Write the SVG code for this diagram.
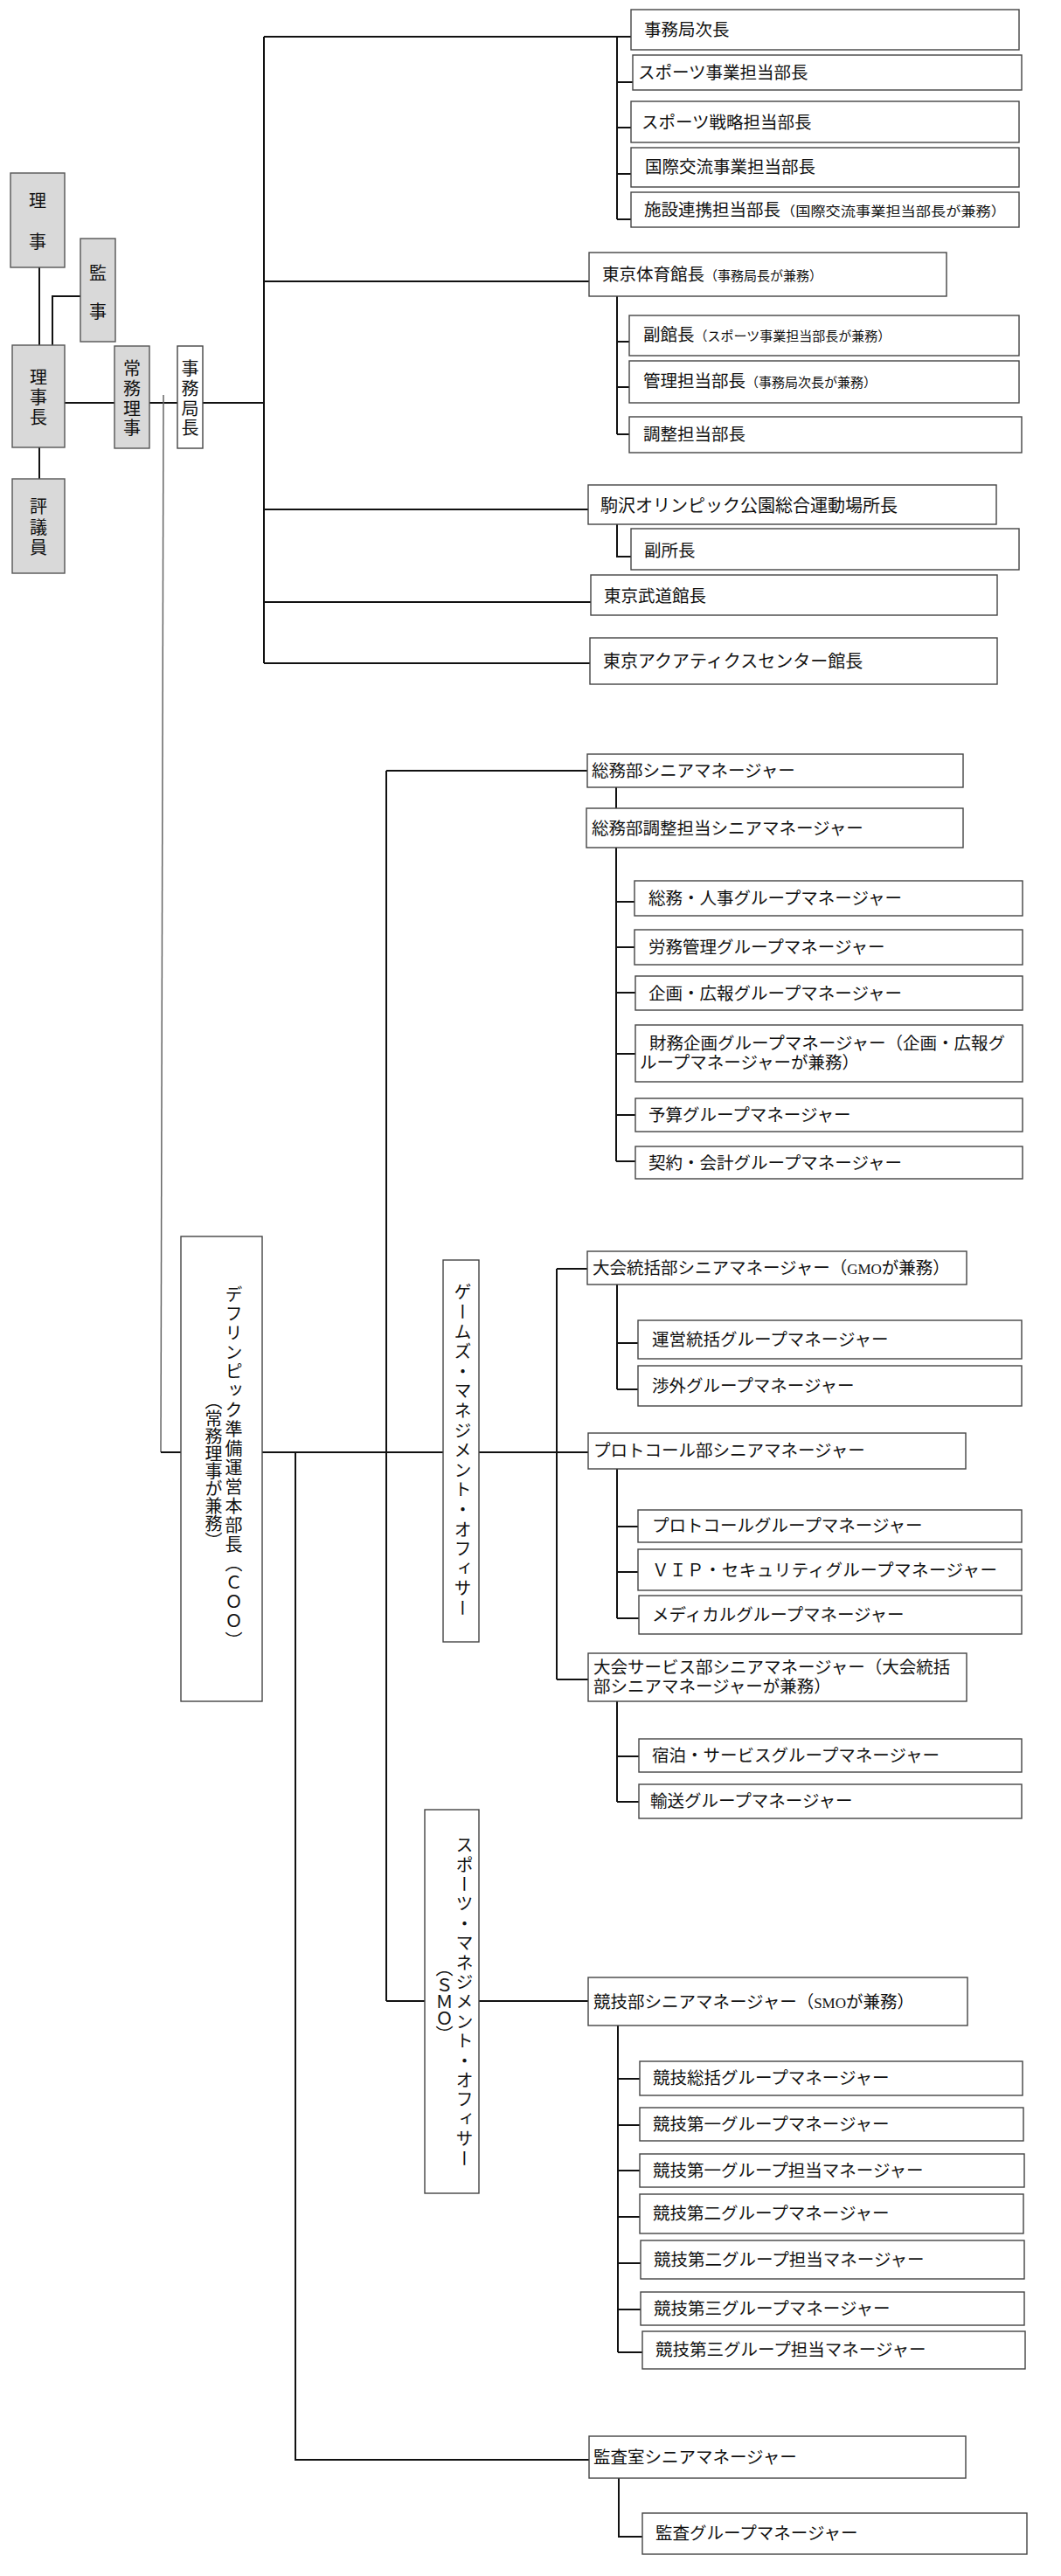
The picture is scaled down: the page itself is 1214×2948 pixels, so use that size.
<svg xmlns="http://www.w3.org/2000/svg" width="1214" height="2948" viewBox="0 0 1214 2948">
<style>
  .box{fill:#ffffff;stroke:#444444;stroke-width:1.4}
  .gbox{fill:#d9d9d9;stroke:#555555;stroke-width:1.4}
  text{font-family:"Liberation Serif","Noto Sans CJK JP",serif;fill:#111111}
  .t{font-size:19.5px}
  .b{font-size:20px}
  .s{font-size:15px}
  .l{font-size:17px}
  .c{font-size:20px;text-anchor:middle}
  .v{font-size:20px;writing-mode:vertical-rl;text-anchor:middle;letter-spacing:2px}
  .ln{stroke:#111111;stroke-width:2;fill:none}
  .thin{stroke:#666666;stroke-width:1.5;fill:none}
</style>
<rect x="0" y="0" width="1214" height="2948" fill="#ffffff"/>

<g id="connectors">
  <path class="ln" d="M45,306 V395 M45,512 V548 M60,395 V339 H92"/>
  <path class="ln" d="M74,461 H131 M171,461 H203 M232,461 H302"/>
  <path class="ln" d="M302,42 V759 M302,42 H722"/>
  <path class="ln" d="M706,42 V251 M706,94 H724 M706,146 H722 M706,199 H722 M706,251 H722"/>
  <path class="ln" d="M302,322 H674 M706,339 V497 M706,391 H720 M706,443 H720 M706,497 H720"/>
  <path class="ln" d="M302,583 H673 M706,600 V637 H722"/>
  <path class="ln" d="M302,689 H676 M302,759 H675"/>
  <path class="thin" d="M187,452 L184,1662"/>
  <path class="ln" d="M184,1662 H207 M300,1662 H507 M548,1662 H673"/>
  <path class="ln" d="M338,1662 V2815 H674"/>
  <path class="ln" d="M442,882 V2290 M442,882 H672 M442,2290 H486 M548,2290 H673"/>
  <path class="ln" d="M705,901 V925 M705,970 V1329 M705,1032 H726 M705,1084 H726 M705,1136 H727 M705,1206 H727 M705,1276 H727 M705,1329 H727"/>
  <path class="ln" d="M637,1452 V1922 M637,1452 H672 M637,1922 H673"/>
  <path class="ln" d="M706,1470 V1590 M706,1537 H730 M706,1590 H730"/>
  <path class="ln" d="M706,1681 V1852 M706,1747 H730 M706,1799 H730 M706,1852 H731"/>
  <path class="ln" d="M706,1947 V2062 M706,2010 H731 M706,2062 H731"/>
  <path class="ln" d="M707,2318 V2692 M707,2379 H732 M707,2432 H732 M707,2484 H732 M707,2537 H732 M707,2590 H733 M707,2643 H733 M707,2692 H735"/>
  <path class="ln" d="M708,2836 V2903 H735"/>
</g>

<g id="riji"><rect class="gbox" x="12" y="198" width="62" height="108"/>
  <text class="c"><tspan x="43" y="237">理</tspan><tspan x="43" y="284">事</tspan></text></g>
<g id="kanji"><rect class="gbox" x="92" y="273" width="40" height="118"/>
  <text class="c"><tspan x="112" y="320">監</tspan><tspan x="112" y="364">事</tspan></text></g>
<g id="rijicho"><rect class="gbox" x="14" y="395" width="60" height="117"/>
  <text class="c"><tspan x="44" y="439">理</tspan><tspan x="44" y="462">事</tspan><tspan x="44" y="485">長</tspan></text></g>
<g id="hyogiin"><rect class="gbox" x="14" y="548" width="60" height="108"/>
  <text class="c"><tspan x="44" y="587">評</tspan><tspan x="44" y="611">議</tspan><tspan x="44" y="634">員</tspan></text></g>
<g id="jomuriji"><rect class="gbox" x="131" y="396" width="40" height="117"/>
  <text class="c"><tspan x="151" y="429">常</tspan><tspan x="151" y="452">務</tspan><tspan x="151" y="475">理</tspan><tspan x="151" y="497">事</tspan></text></g>
<g id="jimukyokucho"><rect class="box" x="203" y="396" width="29" height="117"/>
  <text class="c"><tspan x="217.5" y="429">事</tspan><tspan x="217.5" y="452">務</tspan><tspan x="217.5" y="475">局</tspan><tspan x="217.5" y="497">長</tspan></text></g>

<g id="jichou"><rect class="box" x="722" y="11" width="444" height="46"/><text class="t" x="737" y="41">事務局次長</text></g>
<g id="sports-jigyo"><rect class="box" x="724" y="63" width="445" height="40"/><text class="t" x="730" y="90">スポーツ事業担当部長</text></g>
<g id="sports-senryaku"><rect class="box" x="722" y="116" width="444" height="47"/><text class="t" x="734" y="147">スポーツ戦略担当部長</text></g>
<g id="kokusai"><rect class="box" x="722" y="169" width="444" height="45"/><text class="t" x="738" y="198">国際交流事業担当部長</text></g>
<g id="shisetsu"><rect class="box" x="722" y="220" width="444" height="40"/><text class="t" x="737" y="247">施設連携担当部長<tspan class="s" textLength="258" lengthAdjust="spacingAndGlyphs">（国際交流事業担当部長が兼務）</tspan></text></g>

<g id="taiikukan"><rect class="box" x="674" y="289" width="409" height="50"/><text class="t" x="689" y="321">東京体育館長<tspan class="s">（事務局長が兼務）</tspan></text></g>
<g id="fukukancho"><rect class="box" x="720" y="361" width="446" height="46"/><text class="t" x="736" y="390">副館長<tspan class="s">（スポーツ事業担当部長が兼務）</tspan></text></g>
<g id="kanri"><rect class="box" x="720" y="413" width="446" height="48"/><text class="t" x="736" y="443">管理担当部長<tspan class="s">（事務局次長が兼務）</tspan></text></g>
<g id="chosei"><rect class="box" x="720" y="477" width="449" height="41"/><text class="t" x="736" y="504">調整担当部長</text></g>

<g id="komazawa"><rect class="box" x="673" y="555" width="467" height="45"/><text class="t b" x="687" y="586">駒沢オリンピック公園総合運動場所長</text></g>
<g id="fukushocho"><rect class="box" x="722" y="605" width="444" height="47"/><text class="t" x="737" y="637">副所長</text></g>
<g id="budokan"><rect class="box" x="676" y="658" width="465" height="46"/><text class="t" x="691" y="689">東京武道館長</text></g>
<g id="aquatics"><rect class="box" x="675" y="730" width="466" height="53"/><text class="t b" x="690" y="764">東京アクアティクスセンター館長</text></g>

<g id="coo"><rect class="box" x="207" y="1415" width="93" height="532"/>
  <text class="v" x="266" y="1680">デフリンピック準備運営本部長（ＣＯＯ）</text>
  <text class="v" x="243" y="1683" style="letter-spacing:0px">（常務理事が兼務）</text></g>

<g id="somu-sm"><rect class="box" x="672" y="863" width="430" height="38"/><text class="t" x="677" y="889">総務部シニアマネージャー</text></g>
<g id="somu-chosei"><rect class="box" x="671" y="925" width="431" height="45"/><text class="t" x="677" y="955">総務部調整担当シニアマネージャー</text></g>
<g id="somu-jinji"><rect class="box" x="726" y="1008" width="444" height="40"/><text class="t" x="742" y="1035">総務・人事グループマネージャー</text></g>
<g id="romu"><rect class="box" x="726" y="1064" width="444" height="40"/><text class="t" x="742" y="1091">労務管理グループマネージャー</text></g>
<g id="kikaku"><rect class="box" x="727" y="1117" width="443" height="39"/><text class="t" x="742" y="1144">企画・広報グループマネージャー</text></g>
<g id="zaimu"><rect class="box" x="727" y="1173" width="443" height="65"/><text class="t"><tspan x="743" y="1201">財務企画グループマネージャー（企画・広報グ</tspan><tspan x="732" y="1223">ループマネージャーが兼務）</tspan></text></g>
<g id="yosan"><rect class="box" x="727" y="1257" width="443" height="38"/><text class="t" x="742" y="1283">予算グループマネージャー</text></g>
<g id="keiyaku"><rect class="box" x="727" y="1312" width="443" height="37"/><text class="t" x="742" y="1338">契約・会計グループマネージャー</text></g>

<g id="gmo"><rect class="box" x="507" y="1442" width="41" height="437"/>
  <text class="v" x="528" y="1661" style="letter-spacing:2.6px">ゲームズ・マネジメント・オフィサー</text></g>

<g id="taikai-tokatsu"><rect class="box" x="672" y="1432" width="434" height="38"/><text class="t" x="678" y="1458">大会統括部シニアマネージャー（<tspan class="l">GMO</tspan>が兼務）</text></g>
<g id="unei"><rect class="box" x="730" y="1511" width="439" height="44"/><text class="t" x="746" y="1540">運営統括グループマネージャー</text></g>
<g id="shogai"><rect class="box" x="730" y="1563" width="439" height="46"/><text class="t" x="746" y="1593">渉外グループマネージャー</text></g>
<g id="protocol-bu"><rect class="box" x="673" y="1640" width="432" height="41"/><text class="t" x="679" y="1667">プロトコール部シニアマネージャー</text></g>
<g id="protocol-g"><rect class="box" x="730" y="1728" width="439" height="37"/><text class="t" x="746" y="1753">プロトコールグループマネージャー</text></g>
<g id="vip"><rect class="box" x="730" y="1773" width="439" height="47"/><text class="t" x="746" y="1804" textLength="395">ＶＩＰ・セキュリティグループマネージャー</text></g>
<g id="medical"><rect class="box" x="731" y="1826" width="438" height="44"/><text class="t" x="746" y="1855">メディカルグループマネージャー</text></g>
<g id="taikai-service"><rect class="box" x="673" y="1892" width="433" height="55"/><text class="t"><tspan x="679" y="1915">大会サービス部シニアマネージャー（大会統括</tspan><tspan x="679" y="1937">部シニアマネージャーが兼務）</tspan></text></g>
<g id="shukuhaku"><rect class="box" x="731" y="1990" width="438" height="38"/><text class="t" x="746" y="2016">宿泊・サービスグループマネージャー</text></g>
<g id="yuso"><rect class="box" x="731" y="2042" width="438" height="39"/><text class="t" x="744" y="2068">輸送グループマネージャー</text></g>

<g id="smo"><rect class="box" x="486" y="2071" width="62" height="439"/>
  <text class="v" x="530" y="2292" style="letter-spacing:2.4px">スポーツ・マネジメント・オフィサー</text>
  <text class="v" x="507" y="2290" style="letter-spacing:-1px">（ＳＭＯ）</text></g>

<g id="kyogi-bu"><rect class="box" x="673" y="2263" width="434" height="55"/><text class="t" x="679" y="2298">競技部シニアマネージャー（<tspan class="l">SMO</tspan>が兼務）</text></g>
<g id="kyogi-sokatsu"><rect class="box" x="732" y="2359" width="438" height="39"/><text class="t" x="747" y="2385">競技総括グループマネージャー</text></g>
<g id="kyogi-1"><rect class="box" x="732" y="2412" width="439" height="38"/><text class="t" x="747" y="2438">競技第一グループマネージャー</text></g>
<g id="kyogi-1t"><rect class="box" x="732" y="2465" width="440" height="38"/><text class="t" x="747" y="2491">競技第一グループ担当マネージャー</text></g>
<g id="kyogi-2"><rect class="box" x="732" y="2511" width="439" height="45"/><text class="t" x="747" y="2540">競技第二グループマネージャー</text></g>
<g id="kyogi-2t"><rect class="box" x="733" y="2564" width="439" height="44"/><text class="t" x="748" y="2593">競技第二グループ担当マネージャー</text></g>
<g id="kyogi-3"><rect class="box" x="733" y="2623" width="439" height="38"/><text class="t" x="748" y="2649">競技第三グループマネージャー</text></g>
<g id="kyogi-3t"><rect class="box" x="735" y="2668" width="438" height="43"/><text class="t" x="750" y="2696">競技第三グループ担当マネージャー</text></g>

<g id="kansa-sm"><rect class="box" x="674" y="2788" width="431" height="48"/><text class="t" x="679" y="2819">監査室シニアマネージャー</text></g>
<g id="kansa-g"><rect class="box" x="735" y="2876" width="440" height="47"/><text class="t" x="750" y="2906">監査グループマネージャー</text></g>
</svg>
